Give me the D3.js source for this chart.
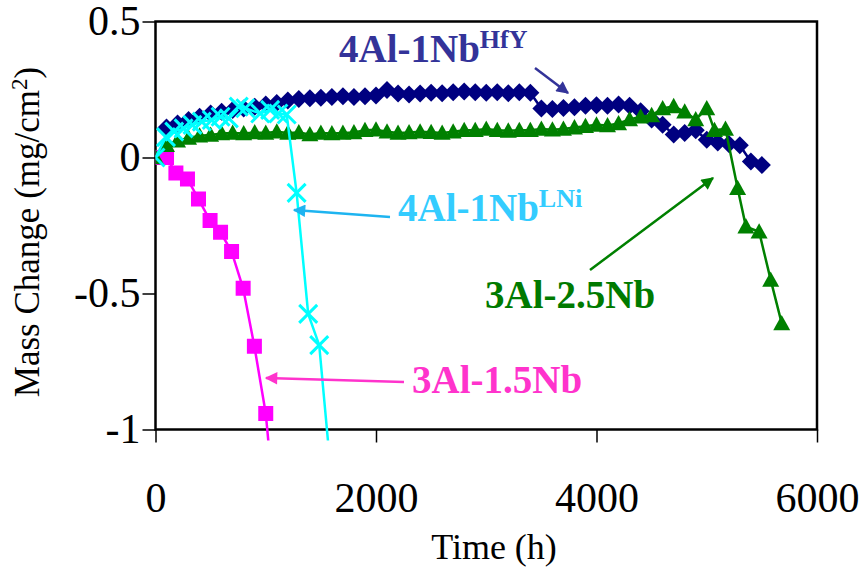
<!DOCTYPE html>
<html>
<head>
<meta charset="utf-8">
<script src="https://cdn.jsdelivr.net/npm/d3@7"></script>
<style>
	body { margin: 0; background: #fff; }
	text { font-family: "Liberation Serif", "Times New Roman", serif; }
</style>
</head>
<body>
<div id="chart"></div>
<script>
// Oxidation mass change vs. time, four alloys
var xTicks = [0, 2000, 4000, 6000],
	yTicks = [0.5, 0, -0.5, -1],
	yTickLabels = ["0.5", "0", "-0.5", "-1"];

// 4Al-1Nb HfY (diamonds)
var hfyData = [
	[100, 0.11], [200, 0.125], [300, 0.138], [400, 0.15], [500, 0.162], [600, 0.168],
	[700, 0.175], [800, 0.18], [900, 0.187], [1000, 0.195], [1100, 0.2], [1200, 0.21],
	[1300, 0.215], [1400, 0.218], [1500, 0.22], [1600, 0.222], [1700, 0.225], [1800, 0.222],
	[1900, 0.225], [2000, 0.228], [2100, 0.248], [2200, 0.235], [2300, 0.232], [2400, 0.235],
	[2500, 0.238], [2600, 0.236], [2700, 0.24], [2800, 0.243], [2900, 0.24], [3000, 0.238],
	[3100, 0.24], [3200, 0.236], [3300, 0.24], [3400, 0.238], [3500, 0.18], [3600, 0.178],
	[3700, 0.182], [3800, 0.185], [3900, 0.19], [4000, 0.192], [4100, 0.19], [4200, 0.195],
	[4300, 0.19], [4400, 0.17], [4500, 0.14], [4600, 0.12], [4700, 0.085], [4800, 0.09],
	[4900, 0.1], [5000, 0.065], [5100, 0.055], [5200, 0.05], [5300, 0.045], [5400, -0.015],
	[5500, -0.028]
];

// 3Al-2.5Nb (triangles)
var nb25Data = [
	[0, 0], [100, 0.045], [200, 0.062], [300, 0.072], [400, 0.08], [500, 0.083], [600, 0.088],
	[700, 0.09], [800, 0.088], [900, 0.092], [1000, 0.09], [1100, 0.095], [1200, 0.09],
	[1300, 0.092], [1400, 0.085], [1500, 0.09], [1600, 0.088], [1700, 0.09], [1800, 0.092],
	[1900, 0.1], [2000, 0.102], [2100, 0.095], [2200, 0.09], [2300, 0.092], [2400, 0.095],
	[2500, 0.093], [2600, 0.09], [2700, 0.095], [2800, 0.1], [2900, 0.1], [3000, 0.105],
	[3100, 0.1], [3200, 0.098], [3300, 0.1], [3400, 0.1], [3500, 0.105], [3600, 0.102],
	[3700, 0.105], [3800, 0.11], [3900, 0.115], [4000, 0.12], [4100, 0.118], [4200, 0.125],
	[4300, 0.14], [4400, 0.15], [4500, 0.155], [4600, 0.18], [4700, 0.188], [4800, 0.168],
	[4900, 0.14], [5000, 0.18], [5070, 0.1], [5170, 0.105], [5280, -0.113], [5355, -0.254],
	[5475, -0.273], [5580, -0.45], [5680, -0.61]
];

// 3Al-1.5Nb (squares)
var nb15Data = [
	[0, 0], [100, 0], [185, -0.057], [290, -0.079], [390, -0.153], [495, -0.232],
	[590, -0.275], [690, -0.346], [795, -0.481], [897, -0.694], [1000, -0.941], [1060, -1.2]
];

// 4Al-1Nb LNi (crosses)
var lniData = [
	[0, 0], [95, 0.075], [170, 0.095], [255, 0.107], [335, 0.12], [420, 0.132], [510, 0.138],
	[590, 0.15], [665, 0.144], [755, 0.187], [815, 0.181], [950, 0.162], [1040, 0.175],
	[1115, 0.162], [1190, 0.158], [1280, -0.13], [1385, -0.575], [1485, -0.69], [1600, -1.2]
];

var w = 864, h = 571,
	plotLeft = 155.5, plotRight = 817, plotTop = 21.5, plotBottom = 429.5;

var svg = d3.select("#chart").append("svg")
	.attr("width", w)
	.attr("height", h);

var x = d3.scaleLinear().domain([0, 6000]).range([plotLeft, plotRight]),
	y = d3.scaleLinear().domain([-1, 0.5]).range([plotBottom, plotTop]);

svg.append("defs").append("clipPath")
	.attr("id", "plotClip")
	.append("rect")
	.attr("x", plotLeft).attr("y", 0)
	.attr("width", plotRight - plotLeft).attr("height", plotBottom + 11);

// axes
var yAxis = svg.append("g")
	.attr("transform", "translate(" + plotLeft + ",0)")
	.call(d3.axisLeft(y).tickValues(yTicks)
		.tickFormat(function(d, i){ return yTickLabels[i]; })
		.tickSize(13).tickPadding(2));

var xAxis = svg.append("g")
	.attr("transform", "translate(0," + plotBottom + ")")
	.call(d3.axisBottom(x).tickValues(xTicks)
		.tickFormat(d3.format("d"))
		.tickSize(13).tickPadding(40));

[xAxis, yAxis].forEach(function(a){
	a.select(".domain").remove();
	a.selectAll("line").attr("stroke", "#000").attr("stroke-width", 1.5);
	a.selectAll("text")
		.attr("fill", "#000")
		.style("font-family", "'Liberation Serif', 'Times New Roman', serif")
		.style("font-size", "42px");
});

svg.append("rect")
	.attr("x", plotLeft).attr("y", plotTop)
	.attr("width", plotRight - plotLeft).attr("height", plotBottom - plotTop)
	.attr("fill", "none")
	.attr("stroke", "#000")
	.attr("stroke-width", 2.5);

// axis titles
svg.append("text")
	.attr("x", 494).attr("y", 559)
	.attr("text-anchor", "middle")
	.style("font-size", "36px")
	.text("Time (h)");

var yTitle = svg.append("text")
	.attr("transform", "translate(39,232) rotate(-90)")
	.attr("text-anchor", "middle")
	.style("font-size", "35px");
yTitle.append("tspan").text("Mass Change (mg/cm");
yTitle.append("tspan").attr("dy", -12).style("font-size", "23px").text("2");
yTitle.append("tspan").attr("dy", 12).text(")");

// series
var line = d3.line()
	.x(function(d){ return x(d[0]); })
	.y(function(d){ return y(d[1]); });

var shapes = {
	square: function(s){ return "M" + (-s) + "," + (-s) + "H" + s + "V" + s + "H" + (-s) + "Z"; },
	diamond: function(s){ return "M0," + (-s) + "L" + s + ",0L0," + s + "L" + (-s) + ",0Z"; },
	triangle: function(s){ return "M0," + (-s) + "L" + s + "," + (s * 0.8) + "L" + (-s) + "," + (s * 0.8) + "Z"; },
	cross: function(s){ return "M" + (-s) + "," + (-s) + "L" + s + "," + s + "M" + s + "," + (-s) + "L" + (-s) + "," + s; }
};

var series = [
	{ data: nb15Data, color: "#FF00FF", shape: "square", size: 7.5 },
	{ data: hfyData, color: "#000080", shape: "diamond", size: 9 },
	{ data: nb25Data, color: "#008000", shape: "triangle", size: 8.5 },
	{ data: lniData, color: "#00FFFF", shape: "cross", size: 9 }
];

var plot = svg.append("g").attr("clip-path", "url(#plotClip)");

series.forEach(function(s){
	var g = plot.append("g");
	g.append("path")
		.attr("d", line(s.data))
		.attr("fill", "none")
		.attr("stroke", s.color)
		.attr("stroke-width", 2.5);

	g.selectAll(".m")
		.data(s.data.filter(function(d){ return d[1] >= -1; }))
		.enter().append("path")
		.attr("transform", function(d){ return "translate(" + x(d[0]) + "," + y(d[1]) + ")"; })
		.attr("d", shapes[s.shape](s.size))
		.attr("fill", s.shape === "cross" ? "none" : s.color)
		.attr("stroke", s.color)
		.attr("stroke-width", s.shape === "cross" ? 3 : 0);
});

// annotations
var defs = svg.select("defs");
var notes = [
	{ main: "4Al-1Nb", sup: "HfY", color: "#333399", tx: 339, ty: 62, from: [535, 68], to: [568, 93] },
	{ main: "4Al-1Nb", sup: "LNi", color: "#33CCFF", arrow: "#1EB4F0", tx: 398, ty: 221, from: [390, 217], to: [294, 210] },
	{ main: "3Al-2.5Nb", color: "#007A00", arrow: "#008000", tx: 485, ty: 308, from: [590, 270], to: [713, 178] },
	{ main: "3Al-1.5Nb", color: "#FF33CC", tx: 412, ty: 393, from: [404, 382], to: [266, 378] }
];

notes.forEach(function(n, i){
	var ac = n.arrow || n.color;
	defs.append("marker")
		.attr("id", "arrow" + i)
		.attr("viewBox", "0 0 10 10")
		.attr("refX", 9).attr("refY", 5)
		.attr("markerWidth", 6).attr("markerHeight", 5)
		.attr("markerUnits", "strokeWidth")
		.attr("orient", "auto")
		.append("path")
		.attr("d", "M0,0L10,5L0,10Z")
		.attr("fill", ac);

	svg.append("line")
		.attr("x1", n.from[0]).attr("y1", n.from[1])
		.attr("x2", n.to[0]).attr("y2", n.to[1])
		.attr("stroke", ac)
		.attr("stroke-width", 2.5)
		.attr("marker-end", "url(#arrow" + i + ")");

	var t = svg.append("text")
		.attr("x", n.tx).attr("y", n.ty)
		.attr("fill", n.color)
		.style("font-size", "39px")
		.style("font-weight", "bold");
	t.append("tspan").text(n.main);
	if(n.sup){
		t.append("tspan").attr("dy", -14).style("font-size", "26px").text(n.sup);
	}
});
</script>
</body>
</html>
